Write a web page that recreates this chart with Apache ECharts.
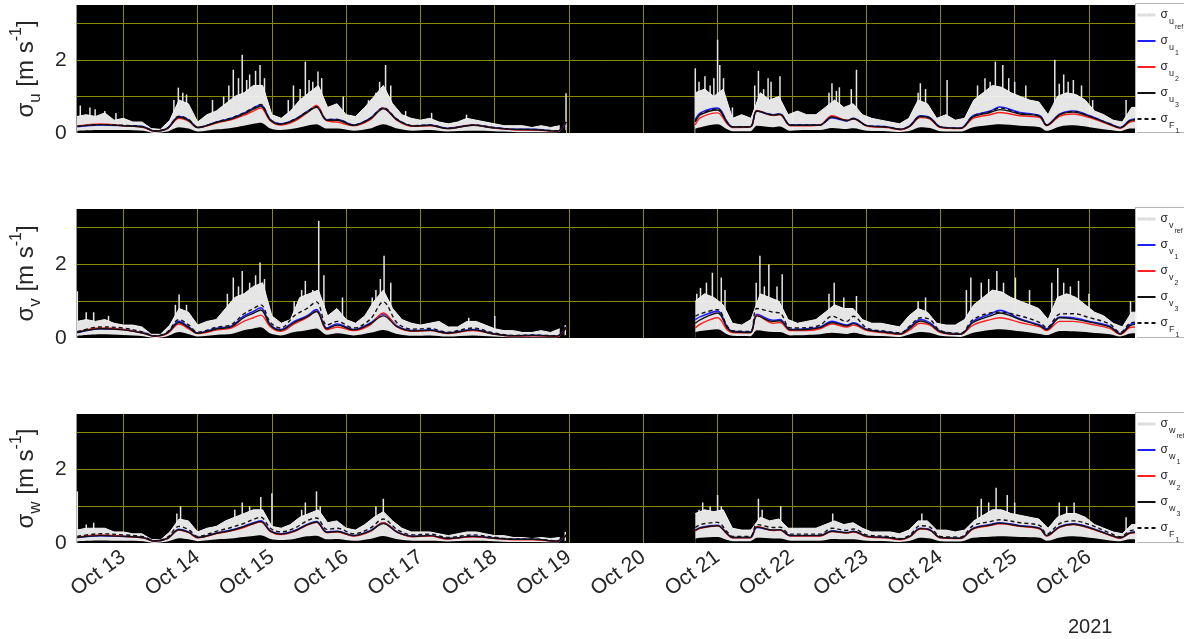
<!DOCTYPE html>
<html><head><meta charset="utf-8">
<script src="https://cdn.jsdelivr.net/npm/echarts@6/dist/echarts.min.js"></script>
<style>html,body{margin:0;padding:0;background:#fff}#c{width:1184px;height:639px}</style>
</head><body><div id="c"></div>
<script>
// ---------- axis ticks / labels ----------
const dayTicks = [13,14,15,16,17,18,19,20,21,22,23,24,25,26];
const dayLabels = ['Oct 13','Oct 14','Oct 15','Oct 16','Oct 17','Oct 18','Oct 19','Oct 20','Oct 21','Oct 22','Oct 23','Oct 24','Oct 25','Oct 26'];
const yearLabel = '2021';
const yLabelTicks = [0, 2];
const yGridTicks = [1, 2, 3];

// ---------- time stamps (day of October 2021) ----------
const tA = [12.38,12.69,13.0,13.27,13.42,13.59,13.75,13.88,14.0,14.27,14.45,14.62,14.75,14.85,14.98,15.12,15.3,15.47,15.6,15.74,15.88,16.1,16.32,16.5,16.69,16.9,17.13,17.36,17.71,17.98,18.25,18.52,18.84,18.96];
const tB = [20.7,20.77,21.0,21.13,21.2,21.44,21.53,21.75,21.84,21.98,22.2,22.38,22.54,22.74,22.83,23.01,23.28,23.46,23.59,23.73,23.86,24.0,24.27,24.44,24.67,24.8,25.07,25.34,25.43,25.61,25.79,26.01,26.28,26.42,26.55,26.62];
const tRawA = []; for (let k = 0; k < 53; k++) tRawA.push(12.375 + k * 0.125);
const tRawB = []; for (let k = 0; k < 49; k++) tRawB.push(20.7 + k * 0.125);

// ---------- sigma_u ----------
const uRawA = [0.45,0.5,0.45,0.55,0.35,0.4,0.3,0.3,0.12,0.1,0.35,0.9,0.8,0.3,0.5,0.6,0.8,1.0,1.1,1.3,1.3,0.5,0.4,0.6,0.9,1.1,1.3,0.7,0.8,0.5,0.45,0.7,1.0,1.3,0.8,0.5,0.4,0.35,0.4,0.3,0.25,0.3,0.4,0.35,0.3,0.25,0.2,0.2,0.2,0.15,0.2,0.15,0.2];
const uRawB = [1.1,1.2,1.0,1.2,0.4,0.5,0.4,1.1,0.9,1.0,0.5,0.6,0.5,0.5,0.7,0.9,0.7,0.8,0.5,0.4,0.35,0.3,0.25,0.4,0.9,0.8,0.4,0.5,0.35,0.4,0.9,1.1,1.3,1.25,1.1,1.0,0.9,0.85,0.5,1.0,1.1,1.05,0.9,0.6,0.5,0.35,0.3,0.7,0.7];
const uSpikes = [[12.42,0.75],[12.55,0.7],[12.62,0.65],[12.75,0.6],[12.9,0.55],[13.68,0.9],[13.74,1.24],[13.8,1.1],[13.85,1.05],[14.2,0.9],[14.35,1.0],[14.42,1.3],[14.48,1.73],[14.55,1.5],[14.6,2.14],[14.66,1.45],[14.7,1.6],[14.78,1.7],[14.84,1.86],[14.9,1.5],[15.22,0.9],[15.29,1.3],[15.38,1.2],[15.45,1.95],[15.5,1.45],[15.55,1.4],[15.62,1.68],[15.67,1.5],[15.96,1.0],[16.3,0.9],[16.4,1.1],[16.45,1.4],[16.53,1.86],[16.6,1.3],[16.8,0.6],[17.15,0.55],[17.62,0.5],[18.96,1.09],[20.7,1.77],[20.75,1.4],[20.83,1.55],[20.9,1.3],[20.95,1.5],[21.0,2.55],[21.03,1.86],[21.08,1.5],[21.2,0.7],[21.5,1.3],[21.55,1.7],[21.62,1.2],[21.68,1.5],[21.72,1.4],[21.84,1.55],[22.5,1.1],[22.54,1.36],[22.6,1.15],[22.64,1.25],[22.8,1.2],[22.87,1.73],[23.7,1.1],[23.73,1.36],[23.8,1.2],[24.09,1.45],[24.5,1.3],[24.6,1.5],[24.67,1.4],[24.74,1.95],[24.84,1.86],[24.92,1.5],[25.0,1.4],[25.15,1.3],[25.54,2.0],[25.6,1.35],[25.66,1.6],[25.72,1.4],[25.79,1.45],[25.9,1.3],[26.05,0.9],[26.5,0.9]];
const uLoA = [0.06,0.08,0.08,0.06,0.0,0.04,0.16,0.12,0.04,0.1,0.14,0.2,0.25,0.28,0.12,0.08,0.12,0.2,0.24,0.12,0.12,0.06,0.12,0.24,0.12,0.06,0.08,0.04,0.06,0.05,0.03,0.02,0.02,0.08];
const uLoB = [0.12,0.16,0.24,0.1,0.05,0.05,0.2,0.16,0.18,0.06,0.08,0.08,0.14,0.11,0.13,0.06,0.05,0.03,0.06,0.16,0.14,0.05,0.04,0.16,0.22,0.24,0.2,0.16,0.06,0.18,0.21,0.16,0.08,0.05,0.12,0.12];
const u1A = [0.17,0.22,0.2,0.17,0.05,0.13,0.45,0.36,0.15,0.31,0.40,0.54,0.68,0.77,0.36,0.25,0.36,0.58,0.72,0.36,0.37,0.22,0.40,0.68,0.36,0.19,0.22,0.13,0.22,0.15,0.10,0.10,0.05,0.30];
const u1B = [0.36,0.55,0.68,0.30,0.17,0.17,0.60,0.50,0.52,0.22,0.22,0.22,0.42,0.33,0.40,0.20,0.17,0.10,0.20,0.47,0.42,0.17,0.13,0.47,0.60,0.71,0.56,0.47,0.22,0.52,0.60,0.47,0.25,0.15,0.35,0.38];
const u2A = [0.19,0.25,0.2,0.15,0.05,0.12,0.40,0.32,0.15,0.28,0.36,0.48,0.60,0.68,0.33,0.22,0.32,0.55,0.75,0.33,0.30,0.20,0.36,0.68,0.34,0.18,0.20,0.12,0.22,0.14,0.09,0.08,0.05,0.30];
const u2B = [0.22,0.42,0.55,0.25,0.15,0.16,0.62,0.48,0.5,0.2,0.2,0.22,0.47,0.35,0.38,0.19,0.15,0.09,0.18,0.42,0.38,0.15,0.12,0.40,0.5,0.56,0.47,0.42,0.2,0.46,0.52,0.42,0.22,0.13,0.3,0.33];
const u3A = [0.18,0.23,0.2,0.16,0.05,0.12,0.43,0.34,0.15,0.3,0.38,0.52,0.65,0.73,0.35,0.24,0.35,0.56,0.7,0.35,0.35,0.21,0.38,0.66,0.35,0.19,0.21,0.12,0.21,0.14,0.1,0.09,0.05,0.3];
const u3B = [0.3,0.5,0.63,0.28,0.16,0.17,0.6,0.49,0.51,0.21,0.21,0.22,0.44,0.34,0.39,0.2,0.16,0.1,0.19,0.45,0.4,0.16,0.13,0.44,0.56,0.64,0.52,0.45,0.21,0.5,0.57,0.45,0.24,0.14,0.33,0.36];
const uF1A = [0.18,0.23,0.21,0.17,0.06,0.13,0.46,0.37,0.16,0.31,0.41,0.55,0.69,0.78,0.37,0.25,0.37,0.58,0.72,0.37,0.37,0.22,0.4,0.69,0.37,0.2,0.22,0.13,0.22,0.15,0.1,0.1,0.06,0.3];
const uF1B = [0.33,0.52,0.66,0.29,0.17,0.17,0.6,0.5,0.52,0.22,0.22,0.22,0.43,0.34,0.4,0.2,0.17,0.1,0.2,0.46,0.41,0.17,0.13,0.46,0.58,0.68,0.54,0.46,0.22,0.51,0.59,0.46,0.25,0.15,0.34,0.37];

// ---------- sigma_v ----------
const vRawA = [0.45,0.5,0.45,0.5,0.4,0.35,0.35,0.3,0.1,0.1,0.35,0.8,0.7,0.35,0.45,0.5,0.8,1.1,1.2,1.4,1.5,0.6,0.4,0.5,1.1,1.2,1.3,0.6,0.8,0.5,0.4,0.6,1.0,1.3,0.8,0.5,0.4,0.35,0.4,0.45,0.3,0.3,0.45,0.45,0.35,0.25,0.2,0.2,0.15,0.15,0.2,0.15,0.25];
const vRawB = [1.0,1.2,1.1,0.9,0.4,0.35,0.5,1.2,1.1,1.0,0.5,0.4,0.45,0.5,0.7,0.9,0.8,0.8,0.5,0.4,0.4,0.35,0.3,0.6,0.8,0.7,0.4,0.35,0.35,0.5,0.9,1.1,1.3,1.25,1.1,1.0,0.9,0.8,0.5,1.1,1.2,1.1,0.9,0.7,0.6,0.4,0.3,0.7,0.7];
const vSpikes = [[12.38,1.27],[12.5,0.7],[12.6,0.7],[12.8,0.6],[13.7,0.9],[13.75,1.18],[13.85,0.9],[14.4,1.2],[14.48,1.64],[14.55,1.4],[14.6,1.82],[14.7,1.5],[14.78,1.7],[14.84,2.05],[14.9,1.6],[15.3,1.0],[15.4,1.3],[15.45,1.55],[15.55,1.3],[15.63,3.18],[15.7,1.7],[15.95,1.1],[16.35,1.1],[16.4,1.3],[16.46,1.6],[16.51,2.23],[16.6,1.5],[17.65,0.55],[18.0,0.6],[18.95,0.35],[20.72,1.2],[20.77,1.36],[20.85,1.5],[20.93,1.77],[21.05,1.64],[21.1,1.3],[21.52,1.5],[21.57,2.23],[21.63,1.4],[21.69,2.0],[21.8,1.4],[21.87,1.73],[22.5,1.2],[22.57,1.5],[22.7,1.1],[22.87,1.14],[23.7,1.0],[23.8,1.1],[24.35,1.3],[24.41,1.64],[24.55,1.5],[24.65,1.6],[24.76,1.82],[24.85,1.5],[25.01,1.64],[25.2,1.3],[25.5,1.5],[25.58,1.9],[25.66,1.5],[25.75,1.4],[25.86,1.55],[26.0,1.2],[26.56,1.0]];
const vLoA = [0.06,0.1,0.08,0.05,0.0,0.05,0.16,0.1,0.04,0.09,0.11,0.21,0.26,0.29,0.12,0.07,0.16,0.21,0.26,0.09,0.13,0.07,0.14,0.22,0.11,0.06,0.07,0.04,0.07,0.04,0.02,0.02,0.02,0.08];
const vLoB = [0.16,0.19,0.24,0.1,0.06,0.05,0.21,0.16,0.16,0.07,0.08,0.1,0.14,0.11,0.14,0.07,0.05,0.03,0.1,0.16,0.14,0.06,0.03,0.14,0.22,0.24,0.18,0.11,0.08,0.19,0.18,0.15,0.1,0.04,0.12,0.13];
const v1A = [0.14,0.25,0.23,0.14,0.05,0.14,0.45,0.3,0.14,0.27,0.32,0.59,0.72,0.82,0.36,0.23,0.45,0.6,0.77,0.27,0.38,0.23,0.4,0.65,0.32,0.2,0.22,0.14,0.23,0.12,0.06,0.07,0.05,0.3];
const v1B = [0.5,0.58,0.73,0.3,0.18,0.16,0.64,0.48,0.5,0.23,0.25,0.3,0.45,0.35,0.41,0.23,0.16,0.12,0.3,0.5,0.41,0.18,0.11,0.45,0.65,0.75,0.52,0.35,0.25,0.57,0.55,0.45,0.32,0.12,0.36,0.4];
const v2A = [0.16,0.27,0.23,0.13,0.05,0.12,0.38,0.25,0.12,0.22,0.27,0.45,0.55,0.62,0.3,0.18,0.38,0.55,0.73,0.22,0.3,0.2,0.35,0.68,0.3,0.18,0.2,0.12,0.2,0.11,0.05,0.06,0.04,0.28];
const v2B = [0.27,0.38,0.55,0.22,0.15,0.14,0.62,0.4,0.42,0.2,0.2,0.25,0.38,0.3,0.35,0.2,0.13,0.1,0.22,0.4,0.35,0.15,0.1,0.35,0.5,0.55,0.42,0.3,0.2,0.45,0.45,0.38,0.26,0.1,0.28,0.3];
const v3A = [0.15,0.25,0.22,0.13,0.05,0.13,0.42,0.28,0.13,0.25,0.3,0.55,0.67,0.76,0.34,0.21,0.42,0.57,0.72,0.25,0.35,0.22,0.38,0.6,0.3,0.19,0.21,0.13,0.22,0.11,0.06,0.07,0.05,0.28];
const v3B = [0.4,0.5,0.68,0.27,0.17,0.15,0.6,0.45,0.47,0.22,0.23,0.28,0.42,0.33,0.39,0.22,0.15,0.11,0.27,0.46,0.38,0.17,0.1,0.42,0.6,0.68,0.5,0.33,0.23,0.55,0.52,0.43,0.3,0.11,0.33,0.37];
const vF1A = [0.17,0.3,0.27,0.16,0.06,0.16,0.5,0.35,0.16,0.3,0.36,0.65,0.8,0.9,0.42,0.27,0.6,0.8,0.98,0.35,0.45,0.27,0.5,0.98,0.4,0.24,0.26,0.16,0.27,0.14,0.07,0.08,0.06,0.32];
const vF1B = [0.59,0.66,0.77,0.32,0.2,0.18,0.8,0.7,0.68,0.27,0.28,0.35,0.59,0.45,0.59,0.27,0.18,0.14,0.33,0.55,0.5,0.2,0.13,0.5,0.68,0.7,0.6,0.42,0.28,0.65,0.66,0.55,0.38,0.15,0.4,0.43];

// ---------- sigma_w ----------
const wRawA = [0.35,0.4,0.4,0.4,0.3,0.3,0.25,0.25,0.1,0.08,0.3,0.65,0.6,0.3,0.4,0.45,0.6,0.7,0.8,0.9,0.9,0.45,0.4,0.5,0.7,0.8,0.9,0.55,0.6,0.4,0.35,0.5,0.7,0.85,0.6,0.4,0.3,0.3,0.3,0.25,0.2,0.25,0.3,0.3,0.25,0.2,0.2,0.15,0.15,0.12,0.15,0.12,0.15];
const wRawB = [0.8,0.9,0.85,0.9,0.4,0.35,0.35,0.7,0.6,0.65,0.4,0.4,0.4,0.4,0.5,0.6,0.5,0.55,0.4,0.3,0.3,0.3,0.25,0.35,0.6,0.6,0.35,0.35,0.3,0.35,0.6,0.75,0.9,0.9,0.8,0.75,0.7,0.65,0.4,0.7,0.8,0.8,0.7,0.5,0.4,0.3,0.25,0.5,0.5];
const wSpikes = [[12.38,1.4],[12.5,0.5],[12.6,0.55],[13.72,0.8],[13.77,1.0],[14.5,0.9],[14.6,1.1],[14.7,1.0],[14.85,1.25],[15.0,1.35],[15.4,0.9],[15.45,1.1],[15.6,1.4],[15.65,1.0],[16.4,1.0],[16.5,1.2],[18.95,0.3],[20.75,0.9],[20.8,1.1],[20.9,1.0],[21.0,1.3],[21.05,1.0],[21.55,1.2],[21.6,0.9],[21.85,1.0],[22.55,0.8],[23.75,0.8],[24.5,1.0],[24.55,1.2],[24.65,1.1],[24.75,1.5],[24.9,1.3],[25.0,1.1],[25.6,1.1],[25.7,1.0],[25.8,1.1],[26.5,0.7]];
const wLoA = [0.05,0.07,0.06,0.05,0.0,0.04,0.13,0.1,0.05,0.1,0.12,0.16,0.19,0.21,0.11,0.08,0.11,0.18,0.2,0.1,0.11,0.06,0.11,0.19,0.1,0.06,0.06,0.04,0.06,0.05,0.03,0.03,0.02,0.06];
const wLoB = [0.12,0.14,0.16,0.08,0.05,0.05,0.14,0.12,0.12,0.06,0.06,0.06,0.11,0.1,0.1,0.06,0.05,0.03,0.06,0.14,0.12,0.05,0.04,0.14,0.17,0.18,0.16,0.14,0.06,0.15,0.18,0.14,0.07,0.05,0.1,0.1];
const w1A = [0.15,0.2,0.18,0.15,0.05,0.12,0.37,0.3,0.15,0.28,0.35,0.45,0.55,0.6,0.33,0.25,0.33,0.5,0.58,0.3,0.32,0.2,0.33,0.55,0.3,0.18,0.2,0.12,0.18,0.14,0.1,0.1,0.05,0.2];
const w1B = [0.35,0.42,0.48,0.25,0.15,0.15,0.42,0.35,0.36,0.2,0.2,0.2,0.33,0.28,0.32,0.18,0.15,0.1,0.18,0.4,0.36,0.15,0.13,0.4,0.5,0.55,0.47,0.4,0.2,0.45,0.52,0.42,0.22,0.14,0.28,0.3];
const w2A = [0.16,0.22,0.18,0.14,0.05,0.12,0.35,0.28,0.14,0.26,0.33,0.42,0.52,0.57,0.31,0.23,0.31,0.48,0.56,0.28,0.3,0.19,0.31,0.55,0.29,0.17,0.19,0.11,0.17,0.13,0.09,0.09,0.05,0.2];
const w2B = [0.33,0.4,0.47,0.24,0.14,0.14,0.45,0.34,0.35,0.19,0.19,0.19,0.31,0.27,0.3,0.17,0.14,0.09,0.17,0.38,0.35,0.14,0.12,0.38,0.47,0.52,0.45,0.38,0.19,0.43,0.5,0.4,0.21,0.13,0.26,0.28];
const w3A = [0.15,0.2,0.18,0.14,0.05,0.12,0.36,0.29,0.15,0.27,0.34,0.44,0.53,0.58,0.32,0.24,0.32,0.49,0.57,0.29,0.31,0.2,0.32,0.53,0.29,0.18,0.2,0.12,0.18,0.13,0.1,0.1,0.05,0.2];
const w3B = [0.34,0.41,0.47,0.25,0.15,0.15,0.43,0.35,0.36,0.2,0.2,0.2,0.32,0.28,0.31,0.18,0.15,0.1,0.18,0.39,0.35,0.15,0.13,0.39,0.49,0.54,0.46,0.39,0.2,0.44,0.51,0.41,0.22,0.14,0.27,0.29];
const wF1A = [0.18,0.25,0.22,0.17,0.06,0.15,0.45,0.36,0.18,0.33,0.42,0.53,0.64,0.7,0.4,0.3,0.4,0.6,0.68,0.37,0.4,0.25,0.4,0.65,0.36,0.22,0.24,0.15,0.22,0.16,0.11,0.11,0.06,0.22];
const wF1B = [0.42,0.5,0.56,0.3,0.18,0.18,0.5,0.42,0.43,0.24,0.24,0.24,0.4,0.34,0.38,0.22,0.18,0.12,0.22,0.47,0.43,0.18,0.16,0.47,0.58,0.63,0.55,0.47,0.24,0.53,0.6,0.5,0.27,0.17,0.33,0.35];

// ---------- build ----------
const GAP = 19.8;
function pairs(t, v) { const n = Math.min(t.length, v.length); const o = []; for (let i = 0; i < n; i++) o.push([t[i], v[i]]); return o; }
function seg(t1, v1, t2, v2) { return pairs(t1, v1).concat([[GAP, null]], pairs(t2, v2)); }

const TXT = '#262626';
const FONT = 'Liberation Sans';
const GRIDC = '#8a8a00';
const panels = [
  { c: 'u', raw: [uRawA, uRawB], spikes: uSpikes, lo: [uLoA, uLoB], s1: [u1A, u1B], s2: [u2A, u2B], s3: [u3A, u3B], f1: [uF1A, uF1B], top: 5, h: 128 },
  { c: 'v', raw: [vRawA, vRawB], spikes: vSpikes, lo: [vLoA, vLoB], s1: [v1A, v1B], s2: [v2A, v2B], s3: [v3A, v3B], f1: [vF1A, vF1B], top: 209, h: 129 },
  { c: 'w', raw: [wRawA, wRawB], spikes: wSpikes, lo: [wLoA, wLoB], s1: [w1A, w1B], s2: [w2A, w2B], s3: [w3A, w3B], f1: [wF1A, wF1B], top: 414, h: 129 }
];

const grid = [], xAxis = [], yAxis = [], legend = [], series = [], graphic = [];
panels.forEach((p, i) => {
  const last = i === panels.length - 1;
  grid.push({ left: 76, right: 49, top: p.top, height: p.h, show: true, backgroundColor: '#000', borderWidth: 0 });
  xAxis.push({
    type: 'value', gridIndex: i, min: 12.37, max: 26.62,
    axisLine: { show: false },
    axisTick: { show: false, customValues: dayTicks },
    splitLine: { show: true, lineStyle: { color: GRIDC, width: 1 } },
    axisLabel: {
      show: last, customValues: dayTicks, rotate: 36, margin: 12,
      fontSize: 21, fontFamily: FONT, color: TXT,
      formatter: v => dayLabels[dayTicks.indexOf(Math.round(v))]
    }
  });
  yAxis.push({
    type: 'value', gridIndex: i, min: 0, max: 3.5,
    axisLine: { show: false },
    axisTick: { show: false, customValues: yGridTicks },
    splitLine: { show: true, lineStyle: { color: GRIDC, width: 1 } },
    axisLabel: { customValues: yLabelTicks, fontSize: 21, fontFamily: FONT, color: TXT, margin: 10 },
    name: '{m|σ}{s|' + p.c + '}{m| [m s}{p|-1}{m|]}',
    nameLocation: 'middle', nameRotate: 90, nameGap: 24,
    nameTextStyle: {
      color: TXT, fontFamily: FONT,
      rich: {
        m: { fontSize: 24, lineHeight: 36, verticalAlign: 'middle', color: TXT, fontFamily: FONT },
        s: { fontSize: 17, lineHeight: 36, verticalAlign: 'top', padding: [19, 0, 0, 0], color: TXT, fontFamily: FONT },
        p: { fontSize: 16, lineHeight: 36, verticalAlign: 'top', padding: [1, 0, 0, 0], color: TXT, fontFamily: FONT }
      }
    }
  });
  const nRef = p.c + '|ref', n1 = p.c + '|1', n2 = p.c + '|2', n3 = p.c + '|3', nF = 'F|1';
  series.push({
    name: nRef, type: 'line', xAxisIndex: i, yAxisIndex: i, symbol: 'none',
    data: seg(tRawA, p.raw[0], tRawB, p.raw[1]),
    lineStyle: { color: '#f4f4f4', width: 1 },
    itemStyle: { color: '#eeeeee' },
    areaStyle: { color: '#f6f6f6', opacity: 0.93 },
    silent: true, z: 2
  });
  series.push({
    name: p.c + ' spikes', type: 'bar', xAxisIndex: i, yAxisIndex: i,
    data: p.spikes, barWidth: 1.5, itemStyle: { color: '#e6e6e6' }, silent: true, z: 2
  });
  series.push({
    name: p.c + ' floor', type: 'line', xAxisIndex: i, yAxisIndex: i, symbol: 'none', smooth: 0.3,
    data: seg(tA, p.lo[0], tB, p.lo[1]),
    lineStyle: { width: 0, color: '#000' }, areaStyle: { color: '#000', opacity: 1 },
    silent: true, z: 3
  });
  const lineSer = (name, arr, color, type, w) => ({
    name, type: 'line', xAxisIndex: i, yAxisIndex: i, symbol: 'none', smooth: 0.35,
    data: seg(tA, arr[0], tB, arr[1]),
    lineStyle: { color, width: w, type }, itemStyle: { color }, z: 4
  });
  series.push(lineSer(n1, p.s1, '#1f1fff', 'solid', 1.6));
  series.push(lineSer(n2, p.s2, '#ff2020', 'solid', 1.4));
  series.push(lineSer(n3, p.s3, '#111111', 'solid', 1.4));
  series.push(lineSer(nF, p.f1, '#111111', [4, 3], 1.4));

  graphic.push({ type: 'rect', shape: { x: 1135.5, y: p.top - 1.5, width: 60, height: p.h + 1 },
    style: { fill: '#fff', stroke: '#b4b4b4', lineWidth: 1 }, z: 0 });
  legend.push({
    orient: 'vertical', left: 1136, top: p.top - 3, padding: 0,
    itemWidth: 18, itemHeight: 2, itemGap: -3,
    data: [
      { name: nRef, lineStyle: { color: '#dddddd', width: 3 } },
      n1, n2, n3, nF
    ],
    formatter: name => { const q = name.split('|'); return '{s|σ}{a|' + q[0] + '}{b|' + q[1] + '}'; },
    textStyle: {
      color: TXT, fontFamily: FONT,
      rich: {
        s: { fontSize: 12, lineHeight: 26, verticalAlign: 'middle', color: TXT, fontFamily: FONT },
        a: { fontSize: 9, lineHeight: 26, verticalAlign: 'top', padding: [15, 0, 0, 1], color: TXT, fontFamily: FONT },
        b: { fontSize: 7, lineHeight: 26, verticalAlign: 'top', padding: [22, 0, 0, 1], color: TXT, fontFamily: FONT }
      }
    }
  });
});

const option = {
  animation: false,
  backgroundColor: '#fff',
  title: { text: yearLabel, left: 1063, top: 612, textStyle: { fontSize: 20, fontWeight: 'normal', color: TXT, fontFamily: FONT } },
  grid, xAxis, yAxis, legend, series, graphic
};
const chart = echarts.init(document.getElementById('c'), null, { renderer: 'canvas' });
chart.setOption(option);
</script>
</body></html>
